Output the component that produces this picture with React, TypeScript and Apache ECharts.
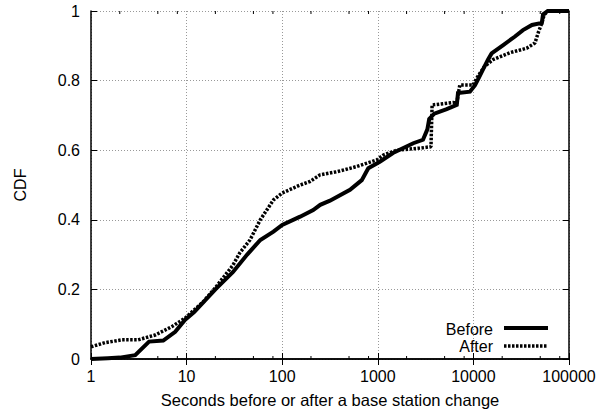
import React, { useEffect, useRef } from "react";
import * as echarts from "echarts";

const BEFORE_X = [1, 1.5, 2, 2.9, 4.05, 5.7, 7.6, 9.6, 12, 20, 30.6, 43, 59, 81, 100, 154, 211, 250, 316, 512, 680, 795, 1050, 1440, 2350, 2970, 3300, 3450, 3900, 5260, 6700, 6900, 9200, 10400, 11500, 12500, 14200, 15500, 20500, 27000, 33000, 41000, 52000, 53500, 60000, 100000];
const BEFORE_Y = [0, 0.002, 0.004, 0.011, 0.05, 0.053, 0.078, 0.112, 0.135, 0.2, 0.25, 0.3, 0.342, 0.366, 0.385, 0.409, 0.428, 0.443, 0.455, 0.486, 0.514, 0.548, 0.567, 0.592, 0.62, 0.63, 0.66, 0.69, 0.705, 0.718, 0.73, 0.764, 0.768, 0.787, 0.81, 0.83, 0.86, 0.878, 0.902, 0.926, 0.945, 0.96, 0.966, 0.99, 1.0, 1.0];

const AFTER_X = [1, 1.4, 2.1, 3.1, 4.7, 7, 9.6, 15, 20, 30.6, 36, 46, 59, 81, 100, 154, 195, 248, 372, 600, 975, 1140, 1580, 2770, 3600, 3700, 6150, 6700, 7200, 9900, 11000, 13000, 16000, 24000, 36000, 44000, 48000, 52000, 55000, 60000, 100000];
const AFTER_Y = [0.035, 0.047, 0.055, 0.055, 0.069, 0.093, 0.117, 0.165, 0.205, 0.27, 0.305, 0.342, 0.4, 0.457, 0.477, 0.5, 0.51, 0.529, 0.538, 0.553, 0.572, 0.586, 0.6, 0.606, 0.61, 0.73, 0.737, 0.735, 0.787, 0.787, 0.81, 0.84, 0.86, 0.88, 0.893, 0.908, 0.94, 0.965, 0.989, 1.0, 1.0];

const MINOR_TICKS = [2, 5, 8, 20, 50, 80, 200, 500, 800, 2000, 5000, 8000, 20000, 50000, 80000];
const SERIES_NAMES = ["Before", "After"];
const X_NAME = "Seconds before or after a base station change";
const Y_NAME = "CDF";

const FONT = "Liberation Sans, Arial, Helvetica, sans-serif";

export default function App() {
  const ref = useRef<HTMLDivElement>(null);
  useEffect(() => {
    if (!ref.current) return;
    const chart = echarts.init(ref.current, null, { renderer: "svg" });
    const zip = (xs: number[], ys: number[]) => xs.map((x, i) => [x, ys[i]]);
    const axisLine = { show: true, lineStyle: { color: "#000", width: 1.5 } };
    const xCommon = {
      type: "log" as const,
      logBase: 10,
      min: 1,
      max: 100000,
      axisLine,
      axisTick: { show: true, inside: true, length: 6, lineStyle: { color: "#000" } },
      minorTick: { show: false },
    };
    const yCommon = {
      type: "value" as const,
      min: 0,
      max: 1,
      interval: 0.2,
      axisLine,
      axisTick: { show: true, inside: true, length: 6, lineStyle: { color: "#000" } },
    };
    chart.setOption({
      animation: false,
      backgroundColor: "#fff",
      grid: { left: 91, right: 44, top: 11, bottom: 54, containLabel: false },
      xAxis: [
        {
          ...xCommon,
          position: "bottom",
          name: X_NAME,
          nameLocation: "middle",
          nameGap: 32,
          nameTextStyle: { color: "#000", fontSize: 16.5, fontFamily: FONT },
          axisLabel: { color: "#000", fontSize: 16, fontFamily: FONT, margin: 9, formatter: (v: number) => String(Math.round(v)) },
          splitLine: { show: true, lineStyle: { color: "#999", type: [1, 2], width: 1 } },
        },
        {
          ...xCommon,
          position: "top",
          axisLabel: { show: false },
          splitLine: { show: false },
        },
      ],
      yAxis: [
        {
          ...yCommon,
          position: "left",
          name: Y_NAME,
          nameLocation: "middle",
          nameGap: 63,
          nameTextStyle: { color: "#000", fontSize: 16, fontFamily: FONT },
          axisLabel: {
            color: "#000",
            fontSize: 16,
            fontFamily: FONT,
            margin: 11,
            formatter: (v: number) => String(Math.round(v * 10) / 10),
          },
          splitLine: { show: true, lineStyle: { color: "#999", type: [1, 2], width: 1 } },
        },
        {
          ...yCommon,
          position: "right",
          axisLabel: { show: false },
          splitLine: { show: false },
        },
      ],
      series: [
        {
          name: SERIES_NAMES[0],
          type: "line",
          data: zip(BEFORE_X, BEFORE_Y),
          showSymbol: false,
          symbol: "none",
          lineStyle: { color: "#000", width: 4, cap: "butt", join: "miter" },
          z: 3,
        },
        {
          name: SERIES_NAMES[1],
          type: "line",
          data: zip(AFTER_X, AFTER_Y),
          showSymbol: false,
          symbol: "none",
          lineStyle: { color: "#000", width: 3.5, type: [2.5, 1.5], cap: "butt" },
          z: 4,
        },
        {
          type: "custom",
          data: MINOR_TICKS.map((v) => [v, 0]),
          silent: true,
          clip: false,
          z: 5,
          renderItem: (params: any, api: any) => {
            const v = api.value(0);
            const b = api.coord([v, 0]);
            const t = api.coord([v, 1]);
            return {
              type: "group",
              children: [
                { type: "line", shape: { x1: b[0], y1: b[1], x2: b[0], y2: b[1] - 3 }, style: { stroke: "#000", lineWidth: 1 } },
                { type: "line", shape: { x1: t[0], y1: t[1], x2: t[0], y2: t[1] + 3 }, style: { stroke: "#000", lineWidth: 1 } },
              ],
            };
          },
        },
      ],
      graphic: [
        { type: "text", x: 493, y: 329, style: { text: SERIES_NAMES[0], fill: "#000", font: `16px ${FONT}`, textAlign: "right", textVerticalAlign: "middle" } },
        { type: "line", shape: { x1: 504, y1: 328, x2: 548, y2: 328 }, style: { stroke: "#000", lineWidth: 4 } },
        { type: "text", x: 493, y: 346.5, style: { text: SERIES_NAMES[1], fill: "#000", font: `16px ${FONT}`, textAlign: "right", textVerticalAlign: "middle" } },
        { type: "line", shape: { x1: 504, y1: 346, x2: 548, y2: 346 }, style: { stroke: "#000", lineWidth: 3.5, lineDash: [2.5, 1.5] } },
      ],
    });
    return () => chart.dispose();
  }, []);
  return <div ref={ref} style={{ position: "absolute", left: 0, top: 0, width: 613, height: 413 }} />;
}
